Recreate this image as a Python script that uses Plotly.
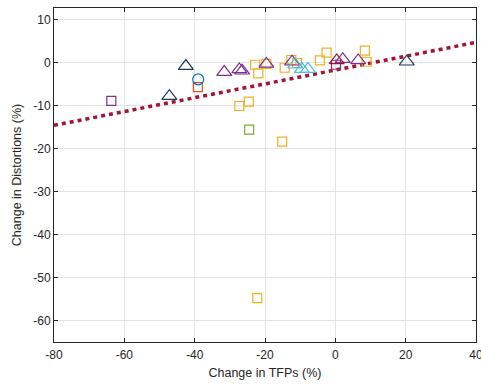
import plotly.graph_objects as go

# TFP change (%) vs distortion change (%) by group
navy_x = [-42.5, -47.2, 20.3]
navy_y = [-0.8, -7.8, 0.2]

blue_circle_x = [-39.0]
blue_circle_y = [-3.9]

red_sq_x = [-39.1]
red_sq_y = [-5.7]

purple_sq_x = [-63.7, 0.2]
purple_sq_y = [-8.9, -0.5]

purple_tri_x = [-31.6, -27.3, -26.5, -19.6, -12.3, 2.1, 6.5]
purple_tri_y = [-2.2, -1.6, -1.9, -0.3, 0.2, 0.8, 0.5]

red_tri_x = [0.4]
red_tri_y = [0.5]

lblue_tri_x = [-11.4, -9.5, -7.8]
lblue_tri_y = [-0.5, -1.5, -1.5]

orange_x = [-22.8, -21.9, -19.6, -27.3, -24.6, -15.1, -22.2,
            -14.4, -12.5, -10.9, -4.4, -2.5, 8.4, 8.9]
orange_y = [-0.5, -2.5, -0.3, -10.1, -9.1, -18.4, -54.8,
            -1.2, 0.6, -0.1, 0.5, 2.3, 2.8, 0.2]

green_x = [-24.5]
green_y = [-15.6]

fit_x = [-80, 40]
fit_y = [-14.6, 4.7]

x_ticks = [-80, -60, -40, -20, 0, 20, 40]
y_ticks = [10, 0, -10, -20, -30, -40, -50, -60]

FONT = "Liberation Sans, Arial, sans-serif"

fig = go.Figure()

fig.add_trace(go.Scatter(
    x=fit_x, y=fit_y, mode="lines",
    line=dict(color="#A2142F", width=3.5, dash="4px,4px"),
    showlegend=False, hoverinfo="skip"))


def add_group(x, y, symbol, color, size):
    fig.add_trace(go.Scatter(
        x=x, y=y, mode="markers", showlegend=False,
        marker=dict(symbol=symbol, size=size, color=color,
                    line=dict(color=color, width=1.2))))


add_group(orange_x, orange_y, "square-open", "#EDB120", 9)
add_group(green_x, green_y, "square-open", "#77AC30", 9)
add_group(red_sq_x, red_sq_y, "square-open", "#D95319", 9)
add_group(purple_sq_x, purple_sq_y, "square-open", "#7E2F8E", 9)
add_group(blue_circle_x, blue_circle_y, "circle-open", "#0072BD", 11)
add_group(purple_tri_x, purple_tri_y, "triangle-up-open", "#7E2F8E", 13)
add_group(lblue_tri_x, lblue_tri_y, "triangle-up-open", "#4DBEEE", 13)
add_group(red_tri_x, red_tri_y, "triangle-up-open", "#A2142F", 13)
add_group(navy_x, navy_y, "triangle-up-open", "#1B3A5C", 13)

axis_common = dict(
    showgrid=True, gridcolor="#e3e3e3", gridwidth=1,
    zeroline=False, showline=True, linecolor="#262626", linewidth=1,
    mirror="ticks", ticks="inside", ticklen=4, tickcolor="#262626",
    tickfont=dict(family=FONT, size=12, color="#262626"),
    automargin=False,
)

fig.update_xaxes(
    range=[-80, 40], tickvals=x_ticks, ticktext=[str(v) for v in x_ticks],
    ticklabeloverflow="allow", ticklabelstandoff=2,
    title=dict(text="Change in TFPs (%)", standoff=6,
               font=dict(family=FONT, size=12.5, color="#262626")),
    **axis_common)
fig.update_yaxes(
    range=[-65, 12.7], tickvals=y_ticks, ticktext=[str(v) for v in y_ticks],
    title=dict(text="Change in Distortions (%)", standoff=8,
               font=dict(family=FONT, size=12.5, color="#262626")),
    **axis_common)

fig.update_layout(
    width=481, height=388,
    margin=dict(l=54, r=5, t=8, b=46),
    plot_bgcolor="white", paper_bgcolor="white",
)

fig.write_html("out.html")
